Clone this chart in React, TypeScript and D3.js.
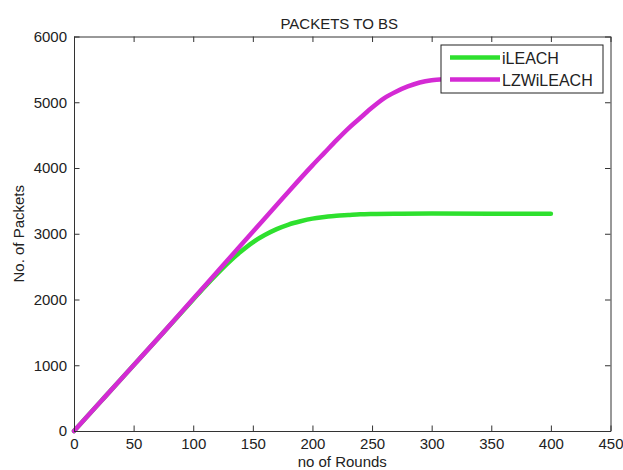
import React, { useEffect, useRef } from 'react';
import * as d3 from 'd3';

// rounds / packet counts
const iLeachRounds = [0, 25, 50, 75, 100, 110, 120, 130, 140, 150, 160, 170, 180, 190, 200, 210, 220, 230, 240, 250, 275, 300, 350, 400];
const iLeachPackets = [0, 500, 1000, 1500, 2000, 2200, 2390, 2570, 2730, 2870, 2980, 3070, 3140, 3190, 3230, 3255, 3275, 3285, 3295, 3300, 3305, 3308, 3305, 3305];

const lzwRounds = [0, 25, 50, 75, 100, 125, 150, 175, 200, 210, 220, 230, 240, 250, 260, 270, 280, 290, 300, 310, 320, 350, 400];
const lzwPackets = [0, 500, 1000, 1500, 2010, 2520, 3030, 3540, 4040, 4230, 4420, 4600, 4760, 4920, 5060, 5160, 5240, 5300, 5335, 5350, 5355, 5360, 5360];

const xTicks = [0, 50, 100, 150, 200, 250, 300, 350, 400, 450];
const yTicks = [0, 1000, 2000, 3000, 4000, 5000, 6000];

const seriesNames = ['iLEACH', 'LZWiLEACH'];
const seriesColors = ['#2ee02e', '#d42ad4'];

const FONT = '"Liberation Sans", Arial, sans-serif';

const App = () => {
  const ref = useRef(null);
  const W = 623;
  const H = 470;
  const plot = { left: 74, right: 610.5, top: 36.5, bottom: 431 };

  useEffect(() => {
    const svg = d3.select(ref.current);
    svg.selectAll('*').remove();

    const x = d3.scaleLinear().domain([0, 450]).range([plot.left, plot.right]);
    const y = d3.scaleLinear().domain([0, 6000]).range([plot.bottom, plot.top]);

    svg.append('rect').attr('width', W).attr('height', H).attr('fill', '#fff');

    // lines
    const line = d3.line().x(d => x(d[0])).y(d => y(d[1])).curve(d3.curveMonotoneX);
    const series = [
      d3.zip(iLeachRounds, iLeachPackets),
      d3.zip(lzwRounds, lzwPackets),
    ];
    series.forEach((s, i) => {
      svg.append('path')
        .datum(s)
        .attr('d', line)
        .attr('fill', 'none')
        .attr('stroke', seriesColors[i])
        .attr('stroke-width', 4.5)
        .attr('stroke-linejoin', 'round')
        .attr('stroke-linecap', 'round');
    });

    // axes box + inward ticks (matlab style)
    const tickLen = 5.5;
    const axisColor = '#333';
    const fmt = d3.format('d');
    const bottomAxis = d3.axisBottom(x).tickValues(xTicks).tickFormat(fmt).tickSizeInner(-tickLen).tickSizeOuter(0);
    const gx = svg.append('g').attr('transform', `translate(0,${plot.bottom})`).call(bottomAxis);
    const topAxis = d3.axisTop(x).tickValues(xTicks).tickSizeInner(-tickLen).tickSizeOuter(0).tickFormat(() => '');
    const gxt = svg.append('g').attr('transform', `translate(0,${plot.top})`).call(topAxis);
    const leftAxis = d3.axisLeft(y).tickValues(yTicks).tickFormat(fmt).tickSizeInner(-tickLen).tickSizeOuter(0).tickPadding(7);
    const gy = svg.append('g').attr('transform', `translate(${plot.left},0)`).call(leftAxis);
    const rightAxis = d3.axisRight(y).tickValues(yTicks).tickSizeInner(-tickLen).tickSizeOuter(0).tickFormat(() => '');
    const gyr = svg.append('g').attr('transform', `translate(${plot.right},0)`).call(rightAxis);

    [gx, gxt, gy, gyr].forEach(g => {
      g.selectAll('.domain').attr('stroke', axisColor);
      g.selectAll('.tick line').attr('stroke', axisColor);
      g.selectAll('text').attr('font-family', FONT).attr('font-size', 15).attr('fill', '#222');
    });
    gx.selectAll('.tick text').attr('dy', '0.71em').attr('y', 7);

    // legend
    const lg = svg.append('g');
    lg.append('rect')
      .attr('x', 441).attr('y', 45).attr('width', 162).attr('height', 48)
      .attr('fill', '#fff').attr('stroke', '#222').attr('stroke-width', 1);
    seriesNames.forEach((name, i) => {
      const cy = 57.5 + i * 22;
      lg.append('line')
        .attr('x1', 450).attr('x2', 500).attr('y1', cy).attr('y2', cy)
        .attr('stroke', seriesColors[i]).attr('stroke-width', 4.5);
      lg.append('text')
        .attr('x', 502).attr('y', cy + 6)
        .attr('font-family', FONT).attr('font-size', 16).attr('fill', '#222')
        .text(name);
    });

    // titles
    svg.append('text')
      .attr('x', (plot.left + plot.right) / 2 - 3).attr('y', 29)
      .attr('text-anchor', 'middle')
      .attr('font-family', FONT).attr('font-size', 15).attr('fill', '#222')
      .text('PACKETS TO BS');
    svg.append('text')
      .attr('x', (plot.left + plot.right) / 2).attr('y', 467)
      .attr('text-anchor', 'middle')
      .attr('font-family', FONT).attr('font-size', 15).attr('fill', '#222')
      .text('no of Rounds');
    svg.append('text')
      .attr('transform', `translate(24,${(plot.top + plot.bottom) / 2}) rotate(-90)`)
      .attr('text-anchor', 'middle')
      .attr('font-family', FONT).attr('font-size', 15).attr('fill', '#222')
      .text('No. of Packets');
  }, []);

  return (
    <svg ref={ref} width={W} height={H} style={{ position: 'absolute', left: 0, top: 0, display: 'block' }}></svg>
  );
};

export default App;
